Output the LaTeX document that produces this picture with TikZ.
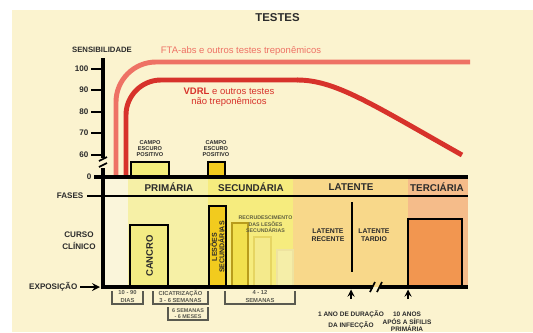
\documentclass[tikz,border=0pt]{standalone}
\usepackage{fontspec}
\setmainfont{Liberation Sans}
\newcommand{\fsz}[2]{\fontsize{#1pt}{#2pt}\selectfont}
\definecolor{creme}{HTML}{FBF3CF}
\definecolor{palido}{HTML}{FAF5DA}
\definecolor{primcor}{HTML}{F6F0A6}
\definecolor{secucor}{HTML}{F6EC7E}
\definecolor{latecor}{HTML}{F8D88A}
\definecolor{tercor}{HTML}{F5BC8A}
\definecolor{tercaixa}{HTML}{F29650}
\definecolor{cancrocor}{HTML}{F3EC84}
\definecolor{lesoescor}{HTML}{F2CB1E}
\definecolor{campocor}{HTML}{F4EE7C}
\definecolor{recA}{HTML}{F2E04E}
\definecolor{recAb}{HTML}{B89C1C}
\definecolor{recB}{HTML}{F4EA8C}
\definecolor{recBb}{HTML}{E6D562}
\definecolor{recC}{HTML}{F5EEA8}
\definecolor{recCb}{HTML}{EEE3A0}
\definecolor{ftacor}{HTML}{EE7265}
\definecolor{vdrlcor}{HTML}{D7322B}
\definecolor{texto}{HTML}{2B2B2B}
\definecolor{chave}{HTML}{5A5A50}
\begin{document}
\begin{tikzpicture}[x=0.02cm, y=-0.02cm, >=stealth, thick,
  every node/.style={inner sep=0pt, text=texto, align=center},
  eixo/.style={line width=2.2pt, black},
  marca/.style={line width=1pt, black},
  caixa/.style={line width=0.9pt, black},
  chaveta/.style={line width=0.7pt, chave},
  curva/.style={line width=2.8pt},
  rotulo/.style={font=\fsz{4.6}{7}\bfseries},
  fase/.style={font=\fsz{5.6}{6}\bfseries},
  miudo/.style={font=\fsz{3.3}{4}\bfseries, text=chave},
  campo/.style={font=\fsz{3.2}{3.4}\bfseries}]
  \useasboundingbox (0,0) rectangle (533,332);
  % 1. fundo e colunas das fases
  \fill[white] (0,0) rectangle (533,332);
  \fill[creme] (12,10) rectangle (533,332);
  \fill[palido] (103,177) rectangle (128,287);
  \fill[primcor] (128,177) rectangle (208,287);
  \fill[secucor] (208,177) rectangle (293,287);
  \fill[latecor] (293,177) rectangle (408,287);
  \fill[tercor] (408,177) rectangle (468,287);

  % 2. curvas de sensibilidade
  \draw[curva, ftacor, rounded corners=0.8cm] (116,177) |- (470,62);
  \draw[curva, vdrlcor, rounded corners=0.7cm] (126,177) |- (298,80);
  \draw[curva, vdrlcor] (297,80) .. controls (335,80) and (370,103) .. (462,155);
  \node[font=\fsz{5.4}{6}, text=ftacor] (fta) at (241,51) {FTA-abs e outros testes treponêmicos};
  \node[font=\fsz{5.4}{5.6}, text=vdrlcor] (vdrl) at (229,97.5) {\textbf{VDRL} e outros testes\\não treponêmicos};

  % 3. campo escuro positivo
  \draw[caixa, fill=campocor] (131,162) rectangle (169,177);
  \draw[caixa, fill=lesoescor] (208,162) rectangle (225,177);
  \node[campo] (campoA) at (150,149) {CAMPO\\ESCURO\\POSITIVO};
  \node[campo] (campoB) at (216,149) {CAMPO\\ESCURO\\POSITIVO};

  % 4. curso clinico
  \draw[caixa, fill=cancrocor] (130,225) rectangle (168,287);
  \node[font=\fsz{5.4}{6}\bfseries, rotate=90] (cancro) at (149.5,256) {CANCRO};
  \draw[line width=1.4pt, fill=lesoescor] (209,206) rectangle (226,287);
  \node[font=\fsz{4}{4.2}\bfseries, rotate=90] (lesoes) at (217.5,247) {LESÕES\\SECUNDÁRIAS};
  \draw[line width=0.9pt, draw=recAb, fill=recA] (232,223) rectangle (248,287);
  \draw[line width=0.9pt, draw=recBb, fill=recB] (254,237) rectangle (271,287);
  \draw[line width=0.9pt, draw=recCb, fill=recC] (277,250) rectangle (293,287);
  \node[font=\fsz{3}{3.7}\bfseries, text=chave!80!olive] (recrud) at (265.5,224.5) {RECRUDESCIMENTO\\DAS LESÕES\\SECUNDÁRIAS};
  \draw[line width=0.7pt] (352,202) -- (352,272);
  \node[font=\fsz{3.9}{4.5}\bfseries] (recente) at (328,235) {LATENTE\\RECENTE};
  \node[font=\fsz{3.9}{4.5}\bfseries] (tardio) at (374,235) {LATENTE\\TARDIO};
  \draw[caixa, fill=tercaixa] (408,219) rectangle (462,287);

  % 5. eixos
  \draw[eixo] (103,58) -- (103,158);
  \draw[marca] (99,161) -- (107,157);
  \draw[marca] (99,167) -- (107,163);
  \draw[eixo] (103,168) -- (103,287) -- (373,287);
  \draw[eixo] (380,287) -- (468,287);
  \draw[marca] (370,292) -- (375,282);
  \draw[marca] (377,292) -- (382,282);
  \draw[eixo] (94,177) -- (468,177);
  \draw[line width=0.9pt] (87,196) -- (468,196);
  \foreach \v/\y in {100/69, 90/90, 80/112, 70/133, 60/155} {
    \draw[line width=1pt] (91,\y) -- (103,\y);
    \node[rotulo, anchor=east] (s\v) at (89,\y) {\v};
  }
  \node[rotulo, anchor=east] (zero) at (92,177) {0};
  \node[font=\fsz{4.4}{5}\bfseries] (sensib) at (102,50) {SENSIBILIDADE};
  \node[font=\fsz{6.5}{7}\bfseries] (testes) at (277.5,18) {TESTES};

  % 6. fases e rotulos da esquerda
  \node[fase] (prim) at (169,187) {PRIMÁRIA};
  \node[fase] (secu) at (251,187) {SECUNDÁRIA};
  \node[fase] (late) at (351,187) {LATENTE};
  \node[fase] (terc) at (437,187) {TERCIÁRIA};
  \node[rotulo, anchor=east] (fases) at (84,196) {FASES};
  \node[rotulo] (curso) at (79,241) {CURSO\\CLÍNICO};
  \node[rotulo, anchor=east] (expo) at (78,287) {EXPOSIÇÃO};
  \coordinate (origem) at (100,287);
  \draw[->, line width=1pt] (expo.east) ++(2,0) -- (origem);

  % 7. intervalos de tempo
  \draw[chaveta] (112,291) |- (143,304) -- (143,291);
  \node[miudo] (dias) at (127.5,296.5) {10 - 90\\DIAS};
  \draw[chaveta] (153,291) |- (208,304) -- (208,291);
  \node[miudo] (cicat) at (180.5,296.5) {CICATRIZAÇÃO\\3 - 6 SEMANAS};
  \draw[chaveta] (168,307) |- (208,320) -- (208,307);
  \node[miudo, font=\fsz{3.1}{3.4}\bfseries] (meses) at (188,313.5) {6 SEMANAS\\- 6 MESES};
  \draw[chaveta] (225,291) |- (295,304) -- (295,291);
  \node[miudo] (semanas) at (260,296.5) {4 - 12\\SEMANAS};

  % 8. marcos
  \node[font=\fsz{3.7}{6.2}\bfseries] (umano) at (351,319.5) {1 ANO DE DURAÇÃO\\DA INFECÇÃO};
  \node[font=\fsz{3.7}{4.3}\bfseries] (dezanos) at (407,322) {10 ANOS\\APÓS A SÍFILIS\\PRIMÁRIA};
  \coordinate (marcoA) at (351,289.5);
  \coordinate (marcoB) at (408,289.5);
  \draw[->, line width=0.8pt] (351,299) -- (marcoA);
  \draw[->, line width=0.8pt] (408,299) -- (marcoB);
\end{tikzpicture}
\end{document}
